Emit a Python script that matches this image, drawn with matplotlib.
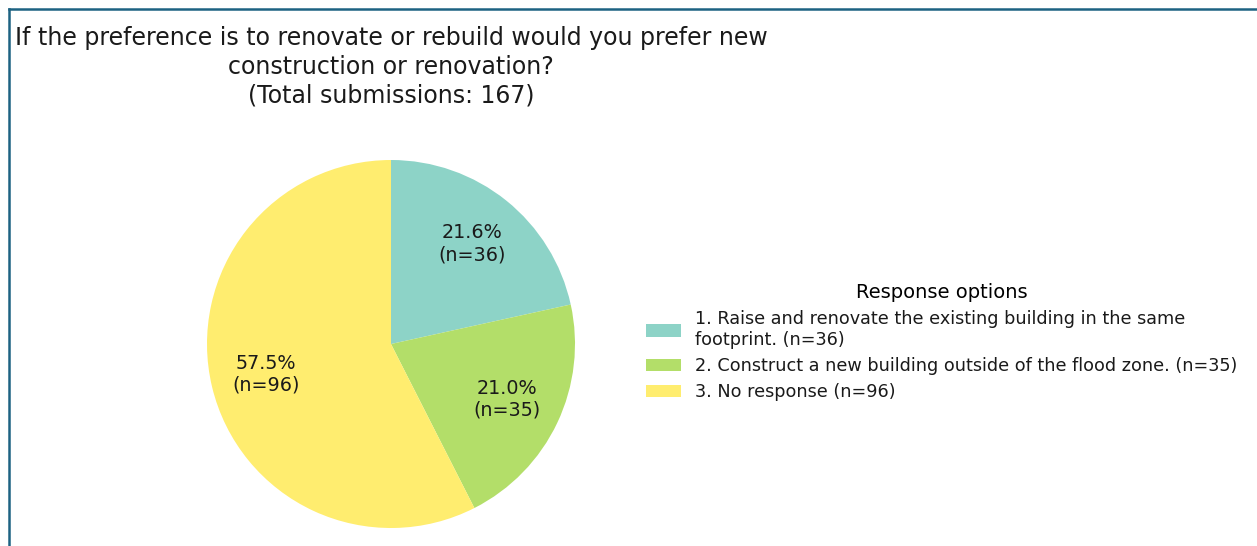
import matplotlib.pyplot as plt
from matplotlib.lines import Line2D

# survey answers
labels = ['1. Raise and renovate the existing building in the same\nfootprint. (n=36)',
          '2. Construct a new building outside of the flood zone. (n=35)',
          '3. No response (n=96)']
counts = [36, 35, 96]
colors = ['#8dd3c7', '#b3de69', '#ffed6f']
total = sum(counts)

fig = plt.figure(figsize=(12.57, 5.46), dpi=100)
ax = fig.add_axes([207 / 1257, 18 / 546, 368 / 1257, 368 / 546])

def fmt(pct):
    n = int(round(pct * total / 100))
    return '%.1f%%\n(n=%d)' % (pct, n)

wedges, texts, autotexts = ax.pie(counts, colors=colors, startangle=90, counterclock=False,
                                  autopct=fmt, pctdistance=0.7,
                                  textprops={'fontsize': 13.8, 'color': '#1a1a1a'})
ax.set_xlim(-1, 1)
ax.set_ylim(-1, 1)
ax.set_aspect('equal')

fig.text(391 / 1257, 1 - 26 / 546,
         'If the preference is to renovate or rebuild would you prefer new\nconstruction or renovation?\n(Total submissions: %d)' % total,
         ha='center', va='top', fontsize=17, linespacing=1.24, color='#1a1a1a')

leg = ax.legend(wedges, labels, title='Response options', loc='center left',
                bbox_to_anchor=(1.15, 0.505), frameon=False, fontsize=12.7,
                title_fontsize=14, labelspacing=0.45, labelcolor='#1a1a1a')

# frame lines of the screenshot
fig.add_artist(Line2D([9 / 1257, 1], [1 - 9 / 546, 1 - 9 / 546], color='#1d6282', lw=1.8))
fig.add_artist(Line2D([9 / 1257, 9 / 1257], [0, 1 - 9 / 546], color='#1d6282', lw=1.8))

fig.savefig('out.png', dpi=100)
